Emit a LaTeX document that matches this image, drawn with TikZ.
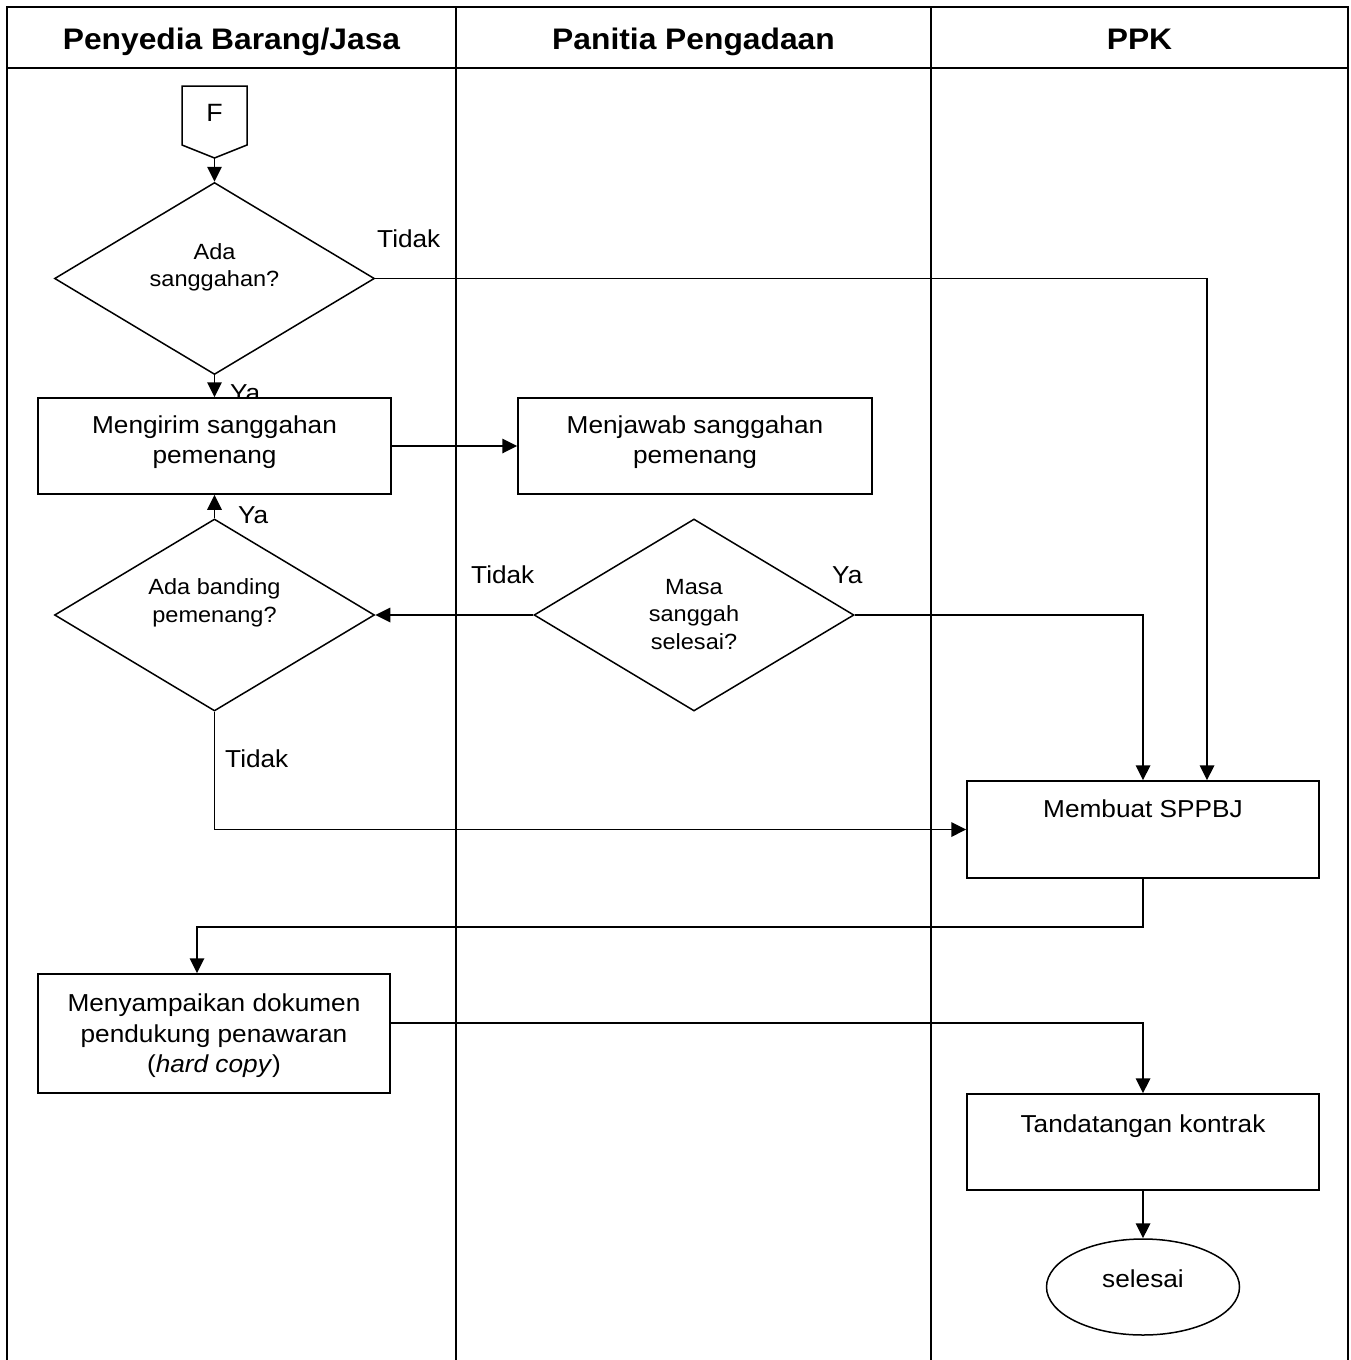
\documentclass[tikz,border=0pt]{standalone}
\usepackage{fontspec}
\setmainfont{Liberation Sans}[FakeStretch=1.07]
\usetikzlibrary{shapes.geometric,arrows.meta,calc}
\begin{document}
\begin{tikzpicture}[x=1pt,y=-1pt,
  procbox/.style={draw, line width=1.5pt, fill=white, inner sep=0pt},
  decision/.style={draw, diamond, line width=1.5pt, fill=white, inner sep=0pt, minimum width=320pt, minimum height=192pt},
  btext/.style={align=center, inner sep=0pt, font=\fontsize{24.5}{30.5}\selectfont},
  dtext/.style={align=center, inner sep=0pt, font=\fontsize{22}{27.5}\selectfont},
  lbl/.style={anchor=base west, inner sep=0pt, font=\fontsize{24.5}{29}\selectfont},
  head/.style={anchor=base, inner sep=0pt, font=\fontsize{29.7}{34}\selectfont\bfseries},
  conn/.style={line width=1.8pt, -{Triangle[length=15pt,width=14.5pt]}},
  lane/.style={line width=2pt}
]
\useasboundingbox (0,0) rectangle (1351,1360);
\fill[white] (0,0) rectangle (1351,1360);

% swimlane frame
\draw[lane] (7,1360) -- (7,7) -- (1348,7) -- (1348,1360);
\draw[lane] (7,68) -- (1348,68);
\draw[lane] (456,7) -- (456,1360);
\draw[lane] (931,7) -- (931,1360);
\node[head] (h1) at (231.5,49) {Penyedia Barang/Jasa};
\node[head] (h2) at (693.5,49) {Panitia Pengadaan};
\node[head] (h3) at (1139.5,49) {PPK};

% off-page connector F
\draw[line width=1.5pt, fill=white] (182,86) -- (247,86) -- (247,145) -- (214.5,158) -- (182,145) -- cycle;
\node[inner sep=0pt, font=\fontsize{25}{30}\selectfont] (F) at (214.5,112.5) {F};
\coordinate (Fb) at (214.5,158);

% labels drawn before boxes (the first "Ya" is partly covered)
\node[lbl] (ya1) at (230,401) {Ya};
\node[lbl] (tidak1) at (377,247) {Tidak};
\node[lbl] (ya2) at (238,523) {Ya};
\node[lbl] (tidak2) at (471,583) {Tidak};
\node[lbl] (ya3) at (832,583) {Ya};
\node[lbl] (tidak3) at (225,767) {Tidak};

% decisions
\node[decision] (d1) at (214.5,278.5) {};
\node[dtext] (d1t) at (214.5,267.5) {Ada\\sanggahan?};
\node[decision] (d2) at (214.5,615) {};
\node[dtext] (d2t) at (214.5,603) {Ada banding\\pemenang?};
\node[decision] (d3) at (694,615) {};
\node[dtext] (d3t) at (694,614.5) {Masa\\sanggah\\selesai?};

% process boxes
\node[procbox, minimum width=353pt, minimum height=96pt] (b1) at (214.5,446) {};
\node[btext] (b1t) at (214.5,442) {Mengirim sanggahan\\pemenang};
\node[procbox, minimum width=354pt, minimum height=96pt] (b2) at (695,446) {};
\node[btext] (b2t) at (695,442) {Menjawab sanggahan\\pemenang};
\node[procbox, minimum width=352pt, minimum height=97pt] (sppbj) at (1143,829.5) {};
\node[btext, anchor=base] (sppbjt) at (1143,817) {Membuat SPPBJ};
\node[procbox, minimum width=352pt, minimum height=119pt] (b3) at (214,1033.5) {};
\node[btext] (b3t) at (214,1036) {Menyampaikan dokumen\\pendukung penawaran\\(\textit{hard copy})};
\node[procbox, minimum width=352pt, minimum height=96pt] (tanda) at (1143,1142) {};
\node[btext, anchor=base] (tandat) at (1143,1132) {Tandatangan kontrak};
\node[draw, ellipse, line width=1.5pt, inner sep=0pt, minimum width=193pt, minimum height=96pt] (selesai) at (1143,1287) {};
\node[btext, anchor=base] (selesait) at (1143,1287) {selesai};

% connectors
\coordinate (t1) at ($(sppbj.north)+(64,0)$);
\coordinate (b3in) at ($(b3.north)+(-17,0)$);
\coordinate (b3out) at ($(b3.east)+(0,-10.5)$);
\draw[conn] (Fb) -- (d1.north);
\draw[conn] (d1.east) -| (t1);
\draw[conn] (d1.south) -- (d1.south |- b1.north);
\draw[conn] (b1.east) -- (b2.west);
\draw[conn] (d2.north) -- (d2.north |- b1.south);
\draw[conn] (d3.west) -- (d2.east);
\draw[conn] (d3.east) -| (sppbj.north);
\draw[conn] (d2.south) |- (sppbj.west);
\draw[conn] (sppbj.south) -- ++(0,48) -| (b3in);
\draw[conn] (b3out) -| (tanda.north);
\draw[conn] (tanda.south) -- (selesai.north);
\end{tikzpicture}
\end{document}
